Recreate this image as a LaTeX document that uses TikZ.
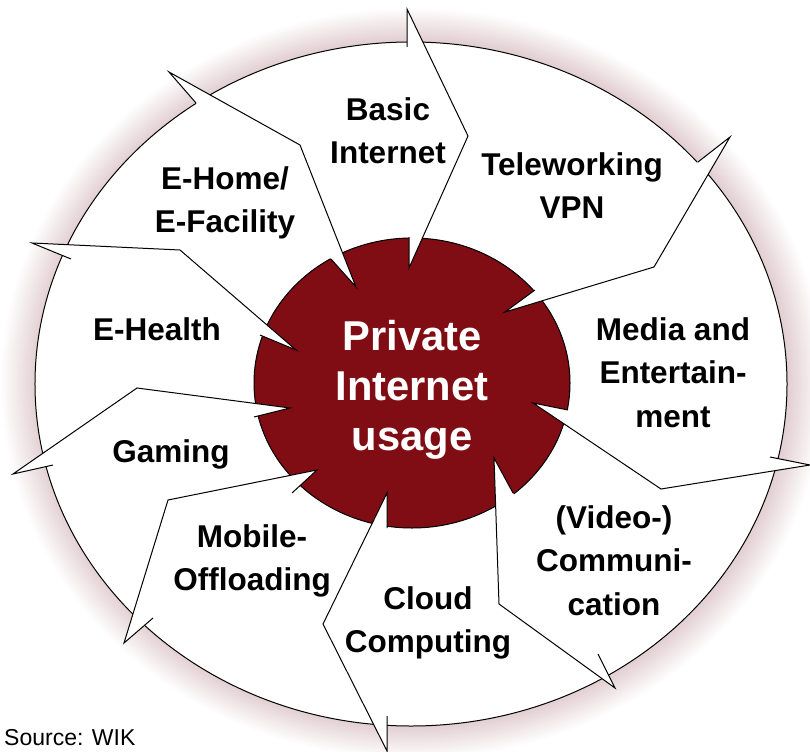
\documentclass[tikz,border=0pt]{standalone}
\usepackage{fontspec}
\setmainfont{Liberation Sans}
\usetikzlibrary{shapes.geometric}

\definecolor{corered}{RGB}{128,13,19}
\definecolor{ringpink}{RGB}{226,207,210}
\pgfdeclareradialshading{ringfade}{\pgfpoint{0bp}{0bp}}{color(0bp)=(ringpink); color(22.8bp)=(ringpink); color(25bp)=(white); color(50bp)=(white)}

\begin{document}
\begin{tikzpicture}[x=1bp, y=-1bp,
  chevron/.style={draw, fill=white, line width=1bp},
  seg/.style={align=center, anchor=north, inner sep=0pt, font=\fontsize{31.5bp}{43.5bp}\selectfont\bfseries}]
\path[use as bounding box, clip] (0,0) rectangle (810,752);

% ring and white disc
\shade[shading=ringfade] (412,383) ellipse [x radius=412bp, y radius=376bp];
\draw[fill=white, line width=1bp] (411,384) ellipse [x radius=376bp, y radius=342bp];

% core
\node[ellipse, draw, fill=corered, line width=1bp, minimum width=316bp, minimum height=290bp, inner sep=0pt] (core) at (412,383) {};

% E-Home / Basic
\draw[chevron] (196,103) -- (169,72) -- (300,145) -- (356,287) -- (331,259);
% Basic / Teleworking
\draw[chevron] (407,47) -- (407,9) -- (468,136) -- (409,268) -- (409,237);
% Teleworking / Media
\draw[chevron] (698,162) -- (730,137) -- (654,267) -- (505,312) -- (535,290);
% Media / Video
\draw[chevron] (770,457) -- (810,465) -- (661,489) -- (533,403) -- (568,410);
% Video / Cloud
\draw[chevron] (598,654) -- (615,688) -- (499,604) -- (494,458) -- (513,493);
% Cloud / Mobile
\draw[chevron] (387,716) -- (387,751) -- (323,624) -- (387,493) -- (387,528);
% Mobile / Gaming
\draw[chevron] (153,618) -- (124,643) -- (168,500) -- (317,470) -- (292,493);
% Gaming / E-Health
\draw[chevron] (53,465) -- (13,474) -- (137,388) -- (290,408) -- (254,417);
% E-Health / E-Home
\draw[chevron] (71,259) -- (32,243) -- (180,250) -- (296,350) -- (260,335);

% labels
\node[seg] (basic) at (388,97) {Basic\\Internet};
\node[seg] (telework) at (572,152) {Teleworking\\VPN};
\node[seg] (media) at (673,317) {Media and\\Entertain-\\ment};
\node[seg] (video) at (614,505) {(Video-)\\Communi-\\cation};
\node[seg] (cloud) at (428,586) {Cloud\\Computing};
\node[seg] (mobile) at (252,524) {Mobile-\\Offloading};
\node[seg] (gaming) at (171,439) {Gaming};
\node[seg] (ehealth) at (157,317) {E-Health};
\node[seg] (ehome) at (225,166) {E-Home/\\E-Facility};

% centre text
\node[align=center, anchor=north, inner sep=0pt, text=white, font=\fontsize{41.7bp}{50bp}\selectfont\bfseries] (usage) at (412,320) {Private\\Internet\\usage};

% source
\node[anchor=base west, inner sep=0pt, font=\fontsize{23bp}{27bp}\selectfont] (source) at (4,745) {Source: WIK};
\end{tikzpicture}
\end{document}
